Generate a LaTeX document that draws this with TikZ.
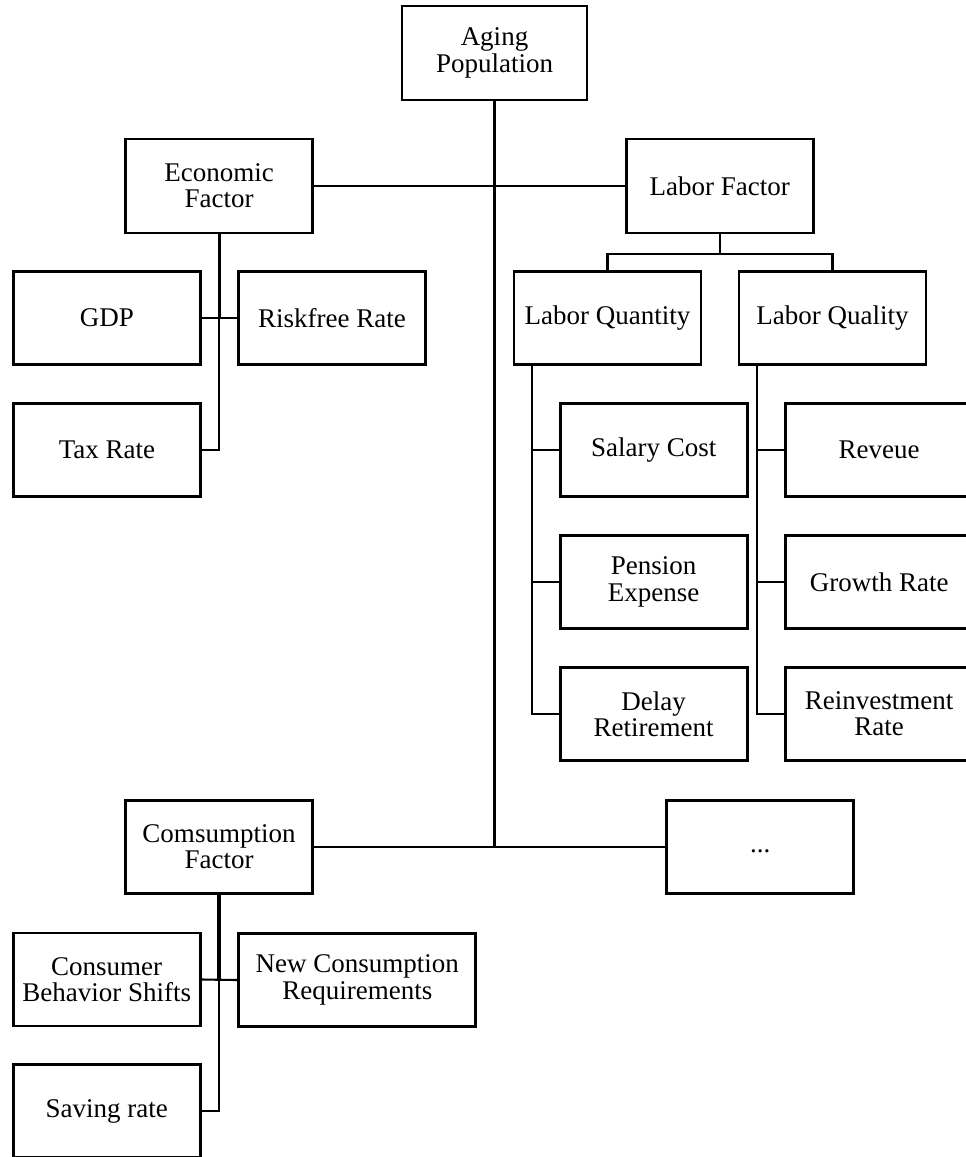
\documentclass[tikz,border=0pt]{standalone}
\usepackage{fontspec}
\setmainfont{Liberation Serif}
\begin{document}
\begin{tikzpicture}[x=1pt,y=-1pt,
  box/.style={draw, line width=2.8pt, inner sep=0pt, minimum width=187pt, minimum height=93pt, align=center, font=\fontsize{27}{26.3}\selectfont},
  wbox/.style={box, minimum width=237pt},
  link/.style={line width=2.1pt},
  thick link/.style={line width=3.2pt}]
\useasboundingbox (0,0) rectangle (966,1157);
\clip (0,0) rectangle (966,1157);
\node[box, minimum width=185pt, minimum height=94pt] (aging) at (494.5,53) {Aging\\Population};
\node[box, minimum height=94pt] (econ) at (219.2,186) {Economic\\Factor};
\node[box, minimum height=94pt] (labor) at (719.7,186) {Labor Factor};
\node[box] (gdp) at (107,318) {GDP};
\node[box] (risk) at (332,318) {Riskfree Rate};
\node[box] (tax) at (107,450) {Tax Rate};
\node[box] (lquan) at (607.5,318) {Labor Quantity};
\node[box] (lqual) at (832.5,318) {Labor Quality};
\node[box] (salary) at (653.7,450) {Salary Cost};
\node[box] (rev) at (879.2,450) {Reveue};
\node[box] (pension) at (653.7,582) {Pension\\Expense};
\node[box] (growth) at (879.2,582) {Growth Rate};
\node[box] (delay) at (653.7,714) {Delay\\Retirement};
\node[box] (reinv) at (879.2,714) {Reinvestment\\Rate};
\node[box] (cons) at (219,847) {Comsumption\\Factor};
\node[box] (dots) at (760.3,847) {\strut...};
\node[box] (cbs) at (106.7,979.5) {Consumer\\Behavior Shifts};
\node[wbox] (ncr) at (357.3,980) {New Consumption\\Requirements};
\node[box] (saving) at (106.7,1111) {Saving rate};
% main trunk
\draw[link] (aging.south) -- (aging.south |- cons.east);
\draw[link] (econ.east) -- (labor.west);
\draw[link] (cons.east) -- (dots.west);
% economic branch
\draw[thick link] (econ.south) -- (econ.south |- gdp.east);
\draw[link] (econ.south |- gdp.east) |- (tax.east);
\draw[link] (gdp.east) -- (risk.west);
% labor branch
\coordinate (lj) at ([yshift=-20pt]labor.south);
\draw[link] (labor.south) -- (lj);
\draw[link] (lj) -| (lquan.north);
\draw[link] (lj) -| (lqual.north);
\coordinate (qv) at ([xshift=19.7pt]lquan.south west);
\coordinate (lv) at ([xshift=19.4pt]lqual.south west);
\draw[link] (qv) |- (delay.west);
\draw[link] (salary.west) -- (salary.west -| qv);
\draw[link] (pension.west) -- (pension.west -| qv);
\draw[link] (lv) |- (reinv.west);
\draw[link] (rev.west) -- (rev.west -| lv);
\draw[link] (growth.west) -- (growth.west -| lv);
% consumption branch
\draw[thick link] (cons.south) -- (cons.south |- cbs.east);
\draw[link] (cons.south |- cbs.east) |- (saving.east);
\draw[link] (cbs.east) -- (ncr.west);
\end{tikzpicture}
\end{document}
